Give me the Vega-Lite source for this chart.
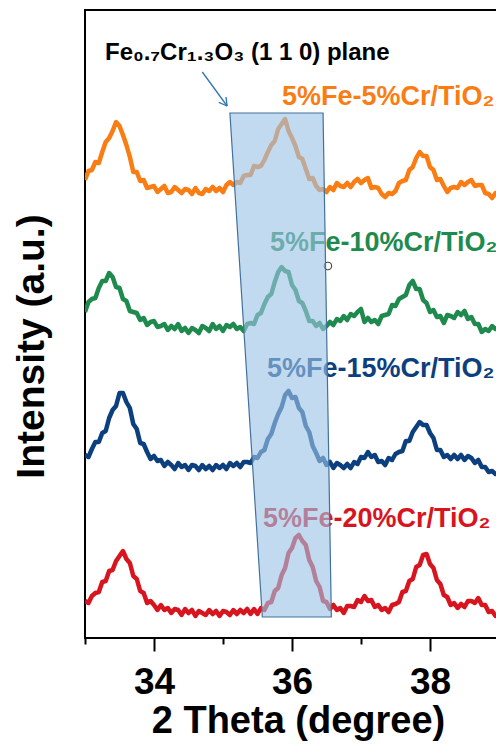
{
"$schema":"https://vega.github.io/schema/vega-lite/v6.json",
"autosize":{"type":"none"},
"padding":{"left":85,"top":10,"right":0,"bottom":111},
"width":414,"height":628,
"config":{"view":{"stroke":"#000","strokeWidth":2},"font":"Liberation Sans"},
"datasets":{
"xrd":[
{"s":"o","x":33.00,"y":458},{"s":"o","x":33.05,"y":467},{"s":"o","x":33.10,"y":468},{"s":"o","x":33.15,"y":476},{"s":"o","x":33.20,"y":475},{"s":"o","x":33.25,"y":486},{"s":"o","x":33.30,"y":496},{"s":"o","x":33.35,"y":500},{"s":"o","x":33.40,"y":507},{"s":"o","x":33.45,"y":516},{"s":"o","x":33.50,"y":512},{"s":"o","x":33.55,"y":503},{"s":"o","x":33.60,"y":493},{"s":"o","x":33.65,"y":481},{"s":"o","x":33.70,"y":466},{"s":"o","x":33.75,"y":466},{"s":"o","x":33.80,"y":457},{"s":"o","x":33.85,"y":458},{"s":"o","x":33.90,"y":450},{"s":"o","x":33.95,"y":451},{"s":"o","x":34.00,"y":452},{"s":"o","x":34.05,"y":446},{"s":"o","x":34.10,"y":449},{"s":"o","x":34.15,"y":452},{"s":"o","x":34.20,"y":445},{"s":"o","x":34.25,"y":446},{"s":"o","x":34.30,"y":451},{"s":"o","x":34.35,"y":448},{"s":"o","x":34.40,"y":445},{"s":"o","x":34.45,"y":449},{"s":"o","x":34.50,"y":448},{"s":"o","x":34.55,"y":444},{"s":"o","x":34.60,"y":450},{"s":"o","x":34.65,"y":445},{"s":"o","x":34.70,"y":444},{"s":"o","x":34.75,"y":449},{"s":"o","x":34.80,"y":447},{"s":"o","x":34.85,"y":451},{"s":"o","x":34.90,"y":447},{"s":"o","x":34.95,"y":450},{"s":"o","x":35.00,"y":446},{"s":"o","x":35.05,"y":453},{"s":"o","x":35.10,"y":456},{"s":"o","x":35.15,"y":453},{"s":"o","x":35.20,"y":456},{"s":"o","x":35.25,"y":455},{"s":"o","x":35.30,"y":462},{"s":"o","x":35.35,"y":463},{"s":"o","x":35.40,"y":463},{"s":"o","x":35.45,"y":472},{"s":"o","x":35.50,"y":471},{"s":"o","x":35.55,"y":472},{"s":"o","x":35.60,"y":478},{"s":"o","x":35.65,"y":486},{"s":"o","x":35.70,"y":493},{"s":"o","x":35.75,"y":497},{"s":"o","x":35.80,"y":509},{"s":"o","x":35.85,"y":514},{"s":"o","x":35.90,"y":519},{"s":"o","x":35.95,"y":507},{"s":"o","x":36.00,"y":500},{"s":"o","x":36.05,"y":492},{"s":"o","x":36.10,"y":481},{"s":"o","x":36.15,"y":479},{"s":"o","x":36.20,"y":469},{"s":"o","x":36.25,"y":459},{"s":"o","x":36.30,"y":460},{"s":"o","x":36.35,"y":452},{"s":"o","x":36.40,"y":448},{"s":"o","x":36.45,"y":449},{"s":"o","x":36.50,"y":446},{"s":"o","x":36.55,"y":451},{"s":"o","x":36.60,"y":448},{"s":"o","x":36.65,"y":455},{"s":"o","x":36.70,"y":452},{"s":"o","x":36.75,"y":451},{"s":"o","x":36.80,"y":455},{"s":"o","x":36.85,"y":451},{"s":"o","x":36.90,"y":456},{"s":"o","x":36.95,"y":459},{"s":"o","x":37.00,"y":455},{"s":"o","x":37.05,"y":458},{"s":"o","x":37.10,"y":460},{"s":"o","x":37.15,"y":450},{"s":"o","x":37.20,"y":451},{"s":"o","x":37.25,"y":450},{"s":"o","x":37.30,"y":444},{"s":"o","x":37.35,"y":441},{"s":"o","x":37.40,"y":445},{"s":"o","x":37.45,"y":444},{"s":"o","x":37.50,"y":447},{"s":"o","x":37.55,"y":455},{"s":"o","x":37.60,"y":457},{"s":"o","x":37.65,"y":458},{"s":"o","x":37.70,"y":468},{"s":"o","x":37.75,"y":471},{"s":"o","x":37.80,"y":480},{"s":"o","x":37.85,"y":486},{"s":"o","x":37.90,"y":482},{"s":"o","x":37.95,"y":482},{"s":"o","x":38.00,"y":471},{"s":"o","x":38.05,"y":468},{"s":"o","x":38.10,"y":458},{"s":"o","x":38.15,"y":459},{"s":"o","x":38.20,"y":452},{"s":"o","x":38.25,"y":446},{"s":"o","x":38.30,"y":450},{"s":"o","x":38.35,"y":451},{"s":"o","x":38.40,"y":450},{"s":"o","x":38.45,"y":456},{"s":"o","x":38.50,"y":453},{"s":"o","x":38.55,"y":456},{"s":"o","x":38.60,"y":458},{"s":"o","x":38.65,"y":452},{"s":"o","x":38.70,"y":453},{"s":"o","x":38.75,"y":453},{"s":"o","x":38.80,"y":445},{"s":"o","x":38.85,"y":444},{"s":"o","x":38.90,"y":440},{"s":"o","x":38.95,"y":445},{"s":"o","x":39.00,"y":444},
{"s":"g","x":33.00,"y":326},{"s":"g","x":33.05,"y":336},{"s":"g","x":33.10,"y":339},{"s":"g","x":33.15,"y":340},{"s":"g","x":33.20,"y":350},{"s":"g","x":33.25,"y":357},{"s":"g","x":33.30,"y":357},{"s":"g","x":33.35,"y":365},{"s":"g","x":33.40,"y":361},{"s":"g","x":33.45,"y":351},{"s":"g","x":33.50,"y":350},{"s":"g","x":33.55,"y":339},{"s":"g","x":33.60,"y":337},{"s":"g","x":33.65,"y":327},{"s":"g","x":33.70,"y":326},{"s":"g","x":33.75,"y":325},{"s":"g","x":33.80,"y":318},{"s":"g","x":33.85,"y":320},{"s":"g","x":33.90,"y":313},{"s":"g","x":33.95,"y":316},{"s":"g","x":34.00,"y":317},{"s":"g","x":34.05,"y":311},{"s":"g","x":34.10,"y":312},{"s":"g","x":34.15,"y":314},{"s":"g","x":34.20,"y":308},{"s":"g","x":34.25,"y":312},{"s":"g","x":34.30,"y":309},{"s":"g","x":34.35,"y":314},{"s":"g","x":34.40,"y":307},{"s":"g","x":34.45,"y":310},{"s":"g","x":34.50,"y":305},{"s":"g","x":34.55,"y":310},{"s":"g","x":34.60,"y":308},{"s":"g","x":34.65,"y":305},{"s":"g","x":34.70,"y":312},{"s":"g","x":34.75,"y":310},{"s":"g","x":34.80,"y":307},{"s":"g","x":34.85,"y":314},{"s":"g","x":34.90,"y":309},{"s":"g","x":34.95,"y":312},{"s":"g","x":35.00,"y":307},{"s":"g","x":35.05,"y":313},{"s":"g","x":35.10,"y":311},{"s":"g","x":35.15,"y":314},{"s":"g","x":35.20,"y":309},{"s":"g","x":35.25,"y":311},{"s":"g","x":35.30,"y":307},{"s":"g","x":35.35,"y":314},{"s":"g","x":35.40,"y":315},{"s":"g","x":35.45,"y":314},{"s":"g","x":35.50,"y":323},{"s":"g","x":35.55,"y":325},{"s":"g","x":35.60,"y":334},{"s":"g","x":35.65,"y":341},{"s":"g","x":35.70,"y":344},{"s":"g","x":35.75,"y":356},{"s":"g","x":35.80,"y":366},{"s":"g","x":35.85,"y":371},{"s":"g","x":35.90,"y":367},{"s":"g","x":35.95,"y":366},{"s":"g","x":36.00,"y":353},{"s":"g","x":36.05,"y":348},{"s":"g","x":36.10,"y":337},{"s":"g","x":36.15,"y":335},{"s":"g","x":36.20,"y":327},{"s":"g","x":36.25,"y":317},{"s":"g","x":36.30,"y":317},{"s":"g","x":36.35,"y":312},{"s":"g","x":36.40,"y":315},{"s":"g","x":36.45,"y":309},{"s":"g","x":36.50,"y":312},{"s":"g","x":36.55,"y":316},{"s":"g","x":36.60,"y":313},{"s":"g","x":36.65,"y":319},{"s":"g","x":36.70,"y":317},{"s":"g","x":36.75,"y":322},{"s":"g","x":36.80,"y":318},{"s":"g","x":36.85,"y":324},{"s":"g","x":36.90,"y":322},{"s":"g","x":36.95,"y":326},{"s":"g","x":37.00,"y":329},{"s":"g","x":37.05,"y":316},{"s":"g","x":37.10,"y":320},{"s":"g","x":37.15,"y":316},{"s":"g","x":37.20,"y":318},{"s":"g","x":37.25,"y":314},{"s":"g","x":37.30,"y":322},{"s":"g","x":37.35,"y":323},{"s":"g","x":37.40,"y":324},{"s":"g","x":37.45,"y":333},{"s":"g","x":37.50,"y":332},{"s":"g","x":37.55,"y":339},{"s":"g","x":37.60,"y":341},{"s":"g","x":37.65,"y":343},{"s":"g","x":37.70,"y":353},{"s":"g","x":37.75,"y":357},{"s":"g","x":37.80,"y":349},{"s":"g","x":37.85,"y":349},{"s":"g","x":37.90,"y":338},{"s":"g","x":37.95,"y":335},{"s":"g","x":38.00,"y":326},{"s":"g","x":38.05,"y":328},{"s":"g","x":38.10,"y":321},{"s":"g","x":38.15,"y":322},{"s":"g","x":38.20,"y":315},{"s":"g","x":38.25,"y":323},{"s":"g","x":38.30,"y":322},{"s":"g","x":38.35,"y":320},{"s":"g","x":38.40,"y":326},{"s":"g","x":38.45,"y":323},{"s":"g","x":38.50,"y":327},{"s":"g","x":38.55,"y":319},{"s":"g","x":38.60,"y":321},{"s":"g","x":38.65,"y":314},{"s":"g","x":38.70,"y":314},{"s":"g","x":38.75,"y":306},{"s":"g","x":38.80,"y":309},{"s":"g","x":38.85,"y":307},{"s":"g","x":38.90,"y":312},{"s":"g","x":38.95,"y":309},{"s":"g","x":39.00,"y":311},
{"s":"n","x":33.00,"y":183},{"s":"n","x":33.05,"y":181},{"s":"n","x":33.10,"y":189},{"s":"n","x":33.15,"y":196},{"s":"n","x":33.20,"y":196},{"s":"n","x":33.25,"y":205},{"s":"n","x":33.30,"y":207},{"s":"n","x":33.35,"y":220},{"s":"n","x":33.40,"y":228},{"s":"n","x":33.45,"y":232},{"s":"n","x":33.50,"y":245},{"s":"n","x":33.55,"y":245},{"s":"n","x":33.60,"y":236},{"s":"n","x":33.65,"y":230},{"s":"n","x":33.70,"y":214},{"s":"n","x":33.75,"y":209},{"s":"n","x":33.80,"y":195},{"s":"n","x":33.85,"y":194},{"s":"n","x":33.90,"y":186},{"s":"n","x":33.95,"y":179},{"s":"n","x":34.00,"y":182},{"s":"n","x":34.05,"y":177},{"s":"n","x":34.10,"y":178},{"s":"n","x":34.15,"y":172},{"s":"n","x":34.20,"y":176},{"s":"n","x":34.25,"y":173},{"s":"n","x":34.30,"y":169},{"s":"n","x":34.35,"y":175},{"s":"n","x":34.40,"y":171},{"s":"n","x":34.45,"y":173},{"s":"n","x":34.50,"y":168},{"s":"n","x":34.55,"y":173},{"s":"n","x":34.60,"y":172},{"s":"n","x":34.65,"y":168},{"s":"n","x":34.70,"y":173},{"s":"n","x":34.75,"y":169},{"s":"n","x":34.80,"y":172},{"s":"n","x":34.85,"y":168},{"s":"n","x":34.90,"y":173},{"s":"n","x":34.95,"y":170},{"s":"n","x":35.00,"y":173},{"s":"n","x":35.05,"y":169},{"s":"n","x":35.10,"y":175},{"s":"n","x":35.15,"y":172},{"s":"n","x":35.20,"y":175},{"s":"n","x":35.25,"y":171},{"s":"n","x":35.30,"y":176},{"s":"n","x":35.35,"y":176},{"s":"n","x":35.40,"y":175},{"s":"n","x":35.45,"y":181},{"s":"n","x":35.50,"y":180},{"s":"n","x":35.55,"y":186},{"s":"n","x":35.60,"y":188},{"s":"n","x":35.65,"y":199},{"s":"n","x":35.70,"y":204},{"s":"n","x":35.75,"y":215},{"s":"n","x":35.80,"y":224},{"s":"n","x":35.85,"y":231},{"s":"n","x":35.90,"y":243},{"s":"n","x":35.95,"y":247},{"s":"n","x":36.00,"y":240},{"s":"n","x":36.05,"y":241},{"s":"n","x":36.10,"y":230},{"s":"n","x":36.15,"y":226},{"s":"n","x":36.20,"y":212},{"s":"n","x":36.25,"y":206},{"s":"n","x":36.30,"y":192},{"s":"n","x":36.35,"y":185},{"s":"n","x":36.40,"y":177},{"s":"n","x":36.45,"y":180},{"s":"n","x":36.50,"y":173},{"s":"n","x":36.55,"y":176},{"s":"n","x":36.60,"y":170},{"s":"n","x":36.65,"y":175},{"s":"n","x":36.70,"y":173},{"s":"n","x":36.75,"y":170},{"s":"n","x":36.80,"y":174},{"s":"n","x":36.85,"y":170},{"s":"n","x":36.90,"y":176},{"s":"n","x":36.95,"y":174},{"s":"n","x":37.00,"y":181},{"s":"n","x":37.05,"y":180},{"s":"n","x":37.10,"y":186},{"s":"n","x":37.15,"y":181},{"s":"n","x":37.20,"y":183},{"s":"n","x":37.25,"y":176},{"s":"n","x":37.30,"y":177},{"s":"n","x":37.35,"y":173},{"s":"n","x":37.40,"y":180},{"s":"n","x":37.45,"y":178},{"s":"n","x":37.50,"y":184},{"s":"n","x":37.55,"y":186},{"s":"n","x":37.60,"y":187},{"s":"n","x":37.65,"y":197},{"s":"n","x":37.70,"y":197},{"s":"n","x":37.75,"y":206},{"s":"n","x":37.80,"y":211},{"s":"n","x":37.85,"y":216},{"s":"n","x":37.90,"y":213},{"s":"n","x":37.95,"y":213},{"s":"n","x":38.00,"y":205},{"s":"n","x":38.05,"y":200},{"s":"n","x":38.10,"y":188},{"s":"n","x":38.15,"y":188},{"s":"n","x":38.20,"y":181},{"s":"n","x":38.25,"y":183},{"s":"n","x":38.30,"y":179},{"s":"n","x":38.35,"y":183},{"s":"n","x":38.40,"y":179},{"s":"n","x":38.45,"y":183},{"s":"n","x":38.50,"y":178},{"s":"n","x":38.55,"y":182},{"s":"n","x":38.60,"y":180},{"s":"n","x":38.65,"y":175},{"s":"n","x":38.70,"y":178},{"s":"n","x":38.75,"y":171},{"s":"n","x":38.80,"y":171},{"s":"n","x":38.85,"y":166},{"s":"n","x":38.90,"y":167},{"s":"n","x":38.95,"y":164},{"s":"n","x":39.00,"y":165},
{"s":"r","x":33.00,"y":37},{"s":"r","x":33.05,"y":35},{"s":"r","x":33.10,"y":42},{"s":"r","x":33.15,"y":45},{"s":"r","x":33.20,"y":46},{"s":"r","x":33.25,"y":56},{"s":"r","x":33.30,"y":57},{"s":"r","x":33.35,"y":67},{"s":"r","x":33.40,"y":68},{"s":"r","x":33.45,"y":77},{"s":"r","x":33.50,"y":82},{"s":"r","x":33.55,"y":87},{"s":"r","x":33.60,"y":79},{"s":"r","x":33.65,"y":75},{"s":"r","x":33.70,"y":62},{"s":"r","x":33.75,"y":59},{"s":"r","x":33.80,"y":47},{"s":"r","x":33.85,"y":45},{"s":"r","x":33.90,"y":35},{"s":"r","x":33.95,"y":37},{"s":"r","x":34.00,"y":33},{"s":"r","x":34.05,"y":28},{"s":"r","x":34.10,"y":33},{"s":"r","x":34.15,"y":28},{"s":"r","x":34.20,"y":30},{"s":"r","x":34.25,"y":25},{"s":"r","x":34.30,"y":29},{"s":"r","x":34.35,"y":28},{"s":"r","x":34.40,"y":23},{"s":"r","x":34.45,"y":29},{"s":"r","x":34.50,"y":25},{"s":"r","x":34.55,"y":28},{"s":"r","x":34.60,"y":22},{"s":"r","x":34.65,"y":27},{"s":"r","x":34.70,"y":25},{"s":"r","x":34.75,"y":23},{"s":"r","x":34.80,"y":28},{"s":"r","x":34.85,"y":24},{"s":"r","x":34.90,"y":27},{"s":"r","x":34.95,"y":22},{"s":"r","x":35.00,"y":27},{"s":"r","x":35.05,"y":26},{"s":"r","x":35.10,"y":23},{"s":"r","x":35.15,"y":28},{"s":"r","x":35.20,"y":24},{"s":"r","x":35.25,"y":28},{"s":"r","x":35.30,"y":25},{"s":"r","x":35.35,"y":29},{"s":"r","x":35.40,"y":24},{"s":"r","x":35.45,"y":29},{"s":"r","x":35.50,"y":24},{"s":"r","x":35.55,"y":30},{"s":"r","x":35.60,"y":28},{"s":"r","x":35.65,"y":35},{"s":"r","x":35.70,"y":36},{"s":"r","x":35.75,"y":47},{"s":"r","x":35.80,"y":50},{"s":"r","x":35.85,"y":63},{"s":"r","x":35.90,"y":70},{"s":"r","x":35.95,"y":85},{"s":"r","x":36.00,"y":90},{"s":"r","x":36.05,"y":100},{"s":"r","x":36.10,"y":103},{"s":"r","x":36.15,"y":97},{"s":"r","x":36.20,"y":93},{"s":"r","x":36.25,"y":78},{"s":"r","x":36.30,"y":71},{"s":"r","x":36.35,"y":57},{"s":"r","x":36.40,"y":51},{"s":"r","x":36.45,"y":37},{"s":"r","x":36.50,"y":36},{"s":"r","x":36.55,"y":29},{"s":"r","x":36.60,"y":33},{"s":"r","x":36.65,"y":28},{"s":"r","x":36.70,"y":30},{"s":"r","x":36.75,"y":25},{"s":"r","x":36.80,"y":32},{"s":"r","x":36.85,"y":32},{"s":"r","x":36.90,"y":31},{"s":"r","x":36.95,"y":38},{"s":"r","x":37.00,"y":36},{"s":"r","x":37.05,"y":42},{"s":"r","x":37.10,"y":37},{"s":"r","x":37.15,"y":38},{"s":"r","x":37.20,"y":31},{"s":"r","x":37.25,"y":33},{"s":"r","x":37.30,"y":28},{"s":"r","x":37.35,"y":30},{"s":"r","x":37.40,"y":26},{"s":"r","x":37.45,"y":33},{"s":"r","x":37.50,"y":34},{"s":"r","x":37.55,"y":36},{"s":"r","x":37.60,"y":46},{"s":"r","x":37.65,"y":47},{"s":"r","x":37.70,"y":57},{"s":"r","x":37.75,"y":59},{"s":"r","x":37.80,"y":71},{"s":"r","x":37.85,"y":73},{"s":"r","x":37.90,"y":83},{"s":"r","x":37.95,"y":84},{"s":"r","x":38.00,"y":74},{"s":"r","x":38.05,"y":70},{"s":"r","x":38.10,"y":58},{"s":"r","x":38.15,"y":54},{"s":"r","x":38.20,"y":43},{"s":"r","x":38.25,"y":41},{"s":"r","x":38.30,"y":33},{"s":"r","x":38.35,"y":35},{"s":"r","x":38.40,"y":30},{"s":"r","x":38.45,"y":34},{"s":"r","x":38.50,"y":31},{"s":"r","x":38.55,"y":37},{"s":"r","x":38.60,"y":37},{"s":"r","x":38.65,"y":35},{"s":"r","x":38.70,"y":40},{"s":"r","x":38.75,"y":33},{"s":"r","x":38.80,"y":33},{"s":"r","x":38.85,"y":26},{"s":"r","x":38.90,"y":27},{"s":"r","x":38.95,"y":22},{"s":"r","x":39.00,"y":23}
],
"labels":[
{"s":"o","x":35.855,"y":533,"t":"5%Fe-5%Cr/TiO₂"},
{"s":"g","x":35.681,"y":387,"t":"5%Fe-10%Cr/TiO₂"},
{"s":"n","x":35.638,"y":261,"t":"5%Fe-15%Cr/TiO₂"},
{"s":"r","x":35.58,"y":111,"t":"5%Fe-20%Cr/TiO₂"}
],
"box":[{"by":525,"bx1":35.10,"bx2":36.45},{"by":21,"bx1":35.57,"bx2":36.57}],
"arrow":[
{"x1":34.70,"y1":566,"x2":35.06,"y2":532},
{"x1":35.043,"y1":541,"x2":35.06,"y2":532},
{"x1":34.939,"y1":535.6,"x2":35.06,"y2":532}
],
"note":[{"x":33.29,"y":578,"t":"Fe₀.₇Cr₁.₃O₃ (1 1 0) plane"}],
"dot":[{"x":36.52,"y":372}]
},
"layer":[
{"data":{"name":"xrd"},"mark":{"type":"line","strokeWidth":4.5,"strokeJoin":"round","clip":true},
"encoding":{
"x":{"field":"x","type":"quantitative","scale":{"domain":[33,39],"nice":false,"zero":false},
"axis":{"values":[33,34,35,36,37,38,39],"labelExpr":"datum.value % 2 === 0 ? format(datum.value, 'd') : ''","tickSize":{"condition":{"test":"datum.value % 2 === 0","value":13},"value":6},"tickWidth":2,"tickColor":"#000","domain":false,"grid":false,"labelFontSize":37,"labelFontWeight":"bold","labelColor":"#000","labelBaseline":"alphabetic","labelPadding":42,"labelFlush":false,"title":"2 Theta (degree)","titleFontSize":38,"titleFontWeight":"bold","titleColor":"#000","titleX":213,"titleY":94,"titleBaseline":"alphabetic","titleAlign":"center"}},
"y":{"field":"y","type":"quantitative","scale":{"domain":[0,628],"nice":false,"zero":false},
"axis":{"ticks":false,"labels":false,"domain":false,"grid":false,"title":"Intensity (a.u.)","titleFontSize":39,"titleFontWeight":"bold","titleColor":"#000","titleX":-42,"titleY":336,"titleBaseline":"alphabetic","titleAlign":"center","titleAngle":-90}},
"color":{"field":"s","type":"nominal","scale":{"domain":["o","g","n","r"],"range":["#FA7D14","#1F8A4E","#0C3F7E","#D8141E"]},"legend":null},
"detail":{"field":"s"}
}},
{"data":{"name":"labels"},"mark":{"type":"text","align":"left","baseline":"alphabetic","fontSize":27,"fontWeight":"bold"},
"encoding":{"x":{"field":"x","type":"quantitative"},"y":{"field":"y","type":"quantitative"},"text":{"field":"t"},
"color":{"field":"s","type":"nominal","legend":null}}},
{"data":{"name":"dot"},"mark":{"type":"point","shape":"circle","size":60,"filled":false,"stroke":"#333","strokeWidth":1,"opacity":1},
"encoding":{"x":{"field":"x","type":"quantitative"},"y":{"field":"y","type":"quantitative"}}},
{"data":{"name":"box"},"mark":{"type":"area","orient":"horizontal","fill":"#9DC3E6","fillOpacity":0.62,"stroke":"#41719C","strokeWidth":1.2,"strokeOpacity":1},
"encoding":{"y":{"field":"by","type":"quantitative"},"x":{"field":"bx1","type":"quantitative"},"x2":{"field":"bx2"}}},
{"data":{"name":"arrow"},"mark":{"type":"rule","color":"#2E75B6","strokeWidth":1.3},
"encoding":{"x":{"field":"x1","type":"quantitative"},"y":{"field":"y1","type":"quantitative"},"x2":{"field":"x2"},"y2":{"field":"y2"}}},
{"data":{"name":"note"},"mark":{"type":"text","align":"left","baseline":"alphabetic","fontSize":24,"fontWeight":"bold","color":"#000"},
"encoding":{"x":{"field":"x","type":"quantitative"},"y":{"field":"y","type":"quantitative"},"text":{"field":"t"}}}
]
}
